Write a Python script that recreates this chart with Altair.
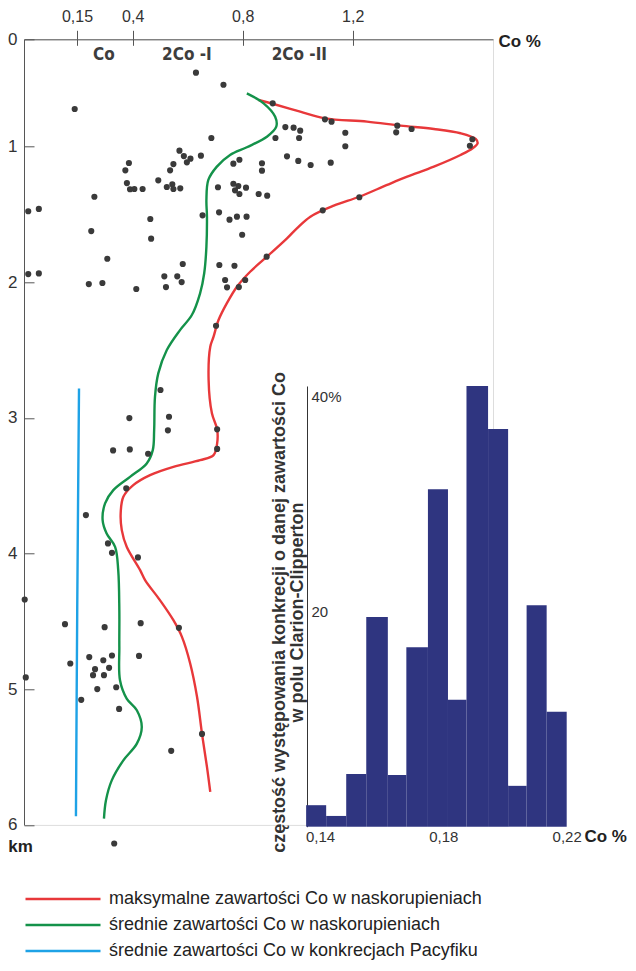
import altair as alt
import pandas as pd

# ---------------- data ----------------
# scattered samples (Co %, depth km)
pt_co = [0.630, 0.730, 0.1435, 0.909, 0.955, 0.985, 1.009, 1.005, 0.919, 0.686,
         0.570, 0.586, 0.610, 0.597, 0.648, 0.548, 0.536, 0.383, 0.367, 0.766,
         0.788, 0.870, 0.870, 0.961, 1.002, 1.047, 0.493, 0.374, 0.388, 0.406,
         0.436, 0.524, 0.544, 0.548, 0.573, 0.710, 0.766, 0.784, 0.772, 0.788,
         0.812, 0.858, 0.889, 0.228, 0.012, 0.042, 0.464, 0.654, 0.714, 0.752,
         0.779, 0.814, 0.798, 0.214, 0.467, 0.286, 0.582, 0.715, 0.770, 0.887,
         0.012, 0.042, 0.203, 0.264, 0.413, 0.515, 0.521, 0.562, 0.578, 0.736,
         0.743, 0.786, 0.809, 0.703, 1.099, 1.123, 1.362, 1.358, 1.414, 1.173,
         1.173, 1.635, 1.626, 1.120, 1.224, 1.091, 0.501, 0.385, 0.532, 0.528,
         0.707, 0.312, 0.387, 0.456, 0.707, 0.371, 0.190, 0.289, 0.307, 0.419,
         0.002, 0.116, 0.274, 0.429, 0.568, 0.131, 0.205, 0.268, 0.307, 0.423,
         0.231, 0.294, 0.222, 0.271, 0.005, 0.241, 0.326, 0.169, 0.339, 0.652,
         0.540, 0.317]
pt_depth = [0.311, 0.423, 0.649, 0.596, 0.817, 0.823, 0.851, 0.919, 0.919, 0.919,
            1.029, 1.069, 1.088, 1.115, 1.066, 1.128, 1.174, 1.120, 1.174, 1.125,
            1.096, 1.122, 1.177, 1.071, 1.105, 1.135, 1.248, 1.268, 1.314, 1.312,
            1.312, 1.297, 1.277, 1.312, 1.307, 1.299, 1.273, 1.290, 1.322, 1.349,
            1.302, 1.349, 1.361, 1.369, 1.476, 1.459, 1.533, 1.506, 1.484, 1.538,
            1.516, 1.516, 1.649, 1.622, 1.678, 1.826, 1.865, 1.872, 1.878, 1.811,
            1.939, 1.934, 2.013, 2.005, 2.049, 1.956, 2.035, 1.956, 1.998, 1.983,
            2.037, 2.035, 1.983, 2.320, 0.745, 0.767, 0.804, 0.866, 0.835, 0.870,
            0.996, 0.931, 0.991, 1.118, 1.373, 1.469, 2.794, 3.001, 2.991, 3.091,
            3.084, 3.239, 3.232, 3.264, 3.228, 3.519, 3.716, 3.925, 3.994, 4.028,
            4.338, 4.520, 4.542, 4.513, 4.547, 4.810, 4.763, 4.786, 4.751, 4.754,
            4.852, 4.842, 4.896, 4.896, 4.913, 4.999, 4.985, 5.078, 5.145, 5.329,
            5.454, 6.137]

# maximum Co content in crusts (red)
red_co = [0.858, 0.909, 1.009, 1.099, 1.252, 1.374, 1.495, 1.592, 1.647, 1.654,
          1.636, 1.592, 1.495, 1.398, 1.325, 1.224, 1.131, 1.046, 0.997, 0.961,
          0.888, 0.827, 0.779, 0.742, 0.712, 0.694, 0.682, 0.676, 0.688, 0.707,
          0.707, 0.694, 0.645, 0.548, 0.463, 0.402, 0.358, 0.346, 0.351, 0.373,
          0.427, 0.445, 0.499, 0.548, 0.579, 0.609, 0.634, 0.652, 0.670, 0.682]
red_depth = [0.565, 0.600, 0.674, 0.736, 0.767, 0.804, 0.835, 0.875, 0.928, 0.968,
             1.012, 1.061, 1.147, 1.221, 1.282, 1.369, 1.435, 1.516, 1.602, 1.676,
             1.811, 1.922, 2.032, 2.155, 2.278, 2.401, 2.475, 2.720, 2.966, 3.084,
             3.187, 3.274, 3.311, 3.360, 3.421, 3.495, 3.581, 3.704, 3.827, 3.950,
             4.122, 4.195, 4.343, 4.491, 4.614, 4.810, 5.057, 5.329, 5.572, 5.757]

# mean Co content in crusts (green)
green_co = [0.815, 0.876, 0.918, 0.922, 0.888, 0.815, 0.754, 0.706, 0.675, 0.668,
            0.670, 0.668, 0.660, 0.645, 0.615, 0.572, 0.524, 0.493, 0.481, 0.478,
            0.473, 0.451, 0.388, 0.313, 0.276, 0.265, 0.283, 0.321, 0.335, 0.340,
            0.340, 0.343, 0.373, 0.415, 0.433, 0.415, 0.358, 0.306, 0.280, 0.271]
green_depth = [0.503, 0.596, 0.721, 0.814, 0.907, 1.004, 1.061, 1.147, 1.245, 1.393,
               1.516, 1.737, 1.933, 2.081, 2.241, 2.352, 2.499, 2.671, 2.844, 3.089,
               3.237, 3.335, 3.434, 3.532, 3.630, 3.753, 3.852, 3.950, 4.122, 4.417,
               4.688, 4.934, 5.069, 5.155, 5.278, 5.401, 5.524, 5.672, 5.819, 5.954]

# mean Co content in Pacific nodules (blue)
blue_co = [0.159, 0.151, 0.147]
blue_depth = [2.782, 4.417, 5.936]

series_names = ["maksymalne zawartości Co w naskorupieniach",
                "średnie zawartości Co w naskorupieniach",
                "średnie zawartości Co w konkrecjach Pacyfiku"]
series_colors = ["#e8383a", "#14924a", "#1ea2e6"]

zone_labels = ["Co", "2Co -I", "2Co -II"]
zone_co = [0.271, 0.597, 1.006]
zone_depth = [0.146, 0.146, 0.146]

# inset histogram (Clarion-Clipperton nodules)
hist_lo = [0.1355, 0.142, 0.1485, 0.155, 0.162, 0.168, 0.175, 0.1815, 0.1875, 0.1945, 0.201, 0.207, 0.2135]
hist_hi = [0.142, 0.1485, 0.155, 0.162, 0.168, 0.175, 0.1815, 0.1875, 0.1945, 0.201, 0.207, 0.2135, 0.22]
hist_pct = [2.0, 1.0, 4.9, 19.5, 4.8, 16.7, 31.4, 11.8, 41.0, 37.0, 3.8, 20.6, 10.7]

main_x_ticks = [0.15, 0.4, 0.8, 1.2]
main_y_ticks = [0, 1, 2, 3, 4, 5, 6]
hist_x_ticks = [0.14, 0.18, 0.22]
hist_y_ticks = [20, 40]
hist_title = ["częstość występowania konkrecji o danej zawartości Co",
              "w polu Clarion-Clipperton"]

# ---------------- tables ----------------
pts = pd.DataFrame({"co": pt_co, "depth": pt_depth})
rows = []
for name, cs, ds in zip(series_names, [red_co, green_co, blue_co],
                        [red_depth, green_depth, blue_depth]):
    for i, (c, d) in enumerate(zip(cs, ds)):
        rows.append({"series": name, "seq": i, "co": c, "depth": d})
lines_df = pd.DataFrame(rows)
zones = pd.DataFrame({"label": zone_labels, "co": zone_co, "depth": zone_depth})
hist_df = pd.DataFrame({"lo": hist_lo, "hi": hist_hi, "pct": hist_pct})

W = 469
H = 785.6
FONT = "Liberation Sans"

xscale = alt.Scale(domain=[0, 0.15, 0.4, 1.71], range=[0, 53, 108.7, W], nice=False, zero=False)
yscale = alt.Scale(domain=[0, 1, 6], range=[0, 107.4, H], nice=False, zero=False)

comma = "replace(toString(datum.value), '.', ',')"

# top axis: labels, ticks pointing up
xaxis = alt.Axis(orient="top", values=main_x_ticks, labelExpr=comma, tickSize=9,
                 tickColor="#555", domainColor="#555", labelFontSize=16, labelFont=FONT,
                 labelColor="#333", labelPadding=6, labelOverlap=False, labelFlush=False,
                 grid=False, title="Co %", titleX=474, titleY=2.4, titleAlign="left",
                 titleBaseline="middle", titleFontSize=17, titleFontWeight="bold",
                 titleFont=FONT, titleColor="#222")
# short tick stubs crossing the top axis line downwards
xaxis_stub = alt.Axis(orient="bottom", offset=-H, values=main_x_ticks, tickSize=6,
                      tickColor="#555", labels=False, domain=False, grid=False, title=None)
yaxis = alt.Axis(orient="right", offset=-W, values=main_y_ticks, format="d", tickSize=10,
                 tickColor="#555", domainColor="#555", labelAlign="right",
                 labelBaseline="middle", labelPadding=-17, labelFontSize=17, labelFont=FONT,
                 labelColor="#333", labelOverlap=False, grid=False, title="km",
                 titleAngle=0, titleX=-4, titleY=807.4, titleAlign="center",
                 titleBaseline="middle", titleFontSize=17, titleFontWeight="bold",
                 titleFont=FONT, titleColor="#222")

lines = alt.Chart(lines_df).mark_line(strokeWidth=2.4, interpolate="catmull-rom").encode(
    x=alt.X("co:Q", scale=xscale, axis=xaxis),
    y=alt.Y("depth:Q", scale=yscale, axis=yaxis),
    color=alt.Color("series:N", scale=alt.Scale(domain=series_names, range=series_colors),
                    legend=alt.Legend(orient="none", legendX=0, legendY=846.7, title=None,
                                      symbolType="stroke", symbolSize=5625,
                                      symbolStrokeWidth=2.4, clipHeight=26, rowPadding=0,
                                      labelFontSize=18, labelFont=FONT, labelColor="#222",
                                      labelOffset=7, labelLimit=600, padding=0)),
    order="seq:Q",
)

points = alt.Chart(pts).mark_circle(size=38, color="#3a3a3a", opacity=1).encode(
    x=alt.X("co:Q", scale=xscale, axis=None),
    y=alt.Y("depth:Q", scale=yscale, axis=yaxis),
)

texts = alt.Chart(zones).mark_text(font="Liberation Sans Narrow, DejaVu Sans Condensed, sans-serif",
                                   fontWeight="bold", fontSize=17, color="#3d3d3d",
                                   baseline="middle", align="center").encode(
    x=alt.X("co:Q", scale=xscale, axis=xaxis_stub),
    y=alt.Y("depth:Q", scale=yscale, axis=yaxis),
    text="label:N",
)

main = alt.layer(lines, points, texts).resolve_axis(x="independent")

hx = alt.Scale(domain=[0.14, 0.22], range=[296, 542.7], nice=False, zero=False)
hy = alt.Scale(domain=[0, 41], range=[787.4, 346.7], nice=False, zero=True)

hist = alt.Chart(hist_df).mark_rect(color="#2f3580").encode(
    x=alt.X("lo:Q", scale=hx,
            axis=alt.Axis(orient="bottom", offset=787.4 - H, values=hist_x_ticks,
                          labelExpr=comma, domain=False, ticks=False, labelPadding=3,
                          labelFontSize=15, labelFont=FONT, labelColor="#333",
                          labelFlush=False, labelOverlap=False, grid=False, title="Co %",
                          titleX=560, titleY=10, titleAlign="left", titleBaseline="middle",
                          titleFontSize=17, titleFontWeight="bold", titleFont=FONT,
                          titleColor="#222")),
    x2="hi:Q",
    y=alt.Y("pct:Q", scale=hy,
            axis=alt.Axis(orient="left", offset=-283, values=hist_y_ticks,
                          labelExpr="datum.value == 40 ? '40%' : datum.value",
                          ticks=False, labelAlign="left", labelBaseline="middle",
                          labelPadding=-4, labelFontSize=15, labelFont=FONT,
                          labelColor="#333", labelOverlap=False, domainColor="#333",
                          grid=False, title=hist_title, titleAngle=270, titleX=-28,
                          titleY=572.7, titleAlign="center", titleBaseline="middle",
                          titleLineHeight=19, titleFontSize=18, titleFontWeight="bold",
                          titleFont=FONT, titleColor="#333")),
    y2=alt.datum(0),
)

chart = alt.layer(main, hist).resolve_scale(x="independent", y="independent").properties(
    width=W, height=H,
    autosize=alt.AutoSizeParams(type="none"),
    padding={"left": 16, "top": 31.3, "right": 135, "bottom": 137},
).configure_view(stroke=None).configure(background="white")

chart.save("out.html", embed_options={"renderer": "svg", "actions": False})
